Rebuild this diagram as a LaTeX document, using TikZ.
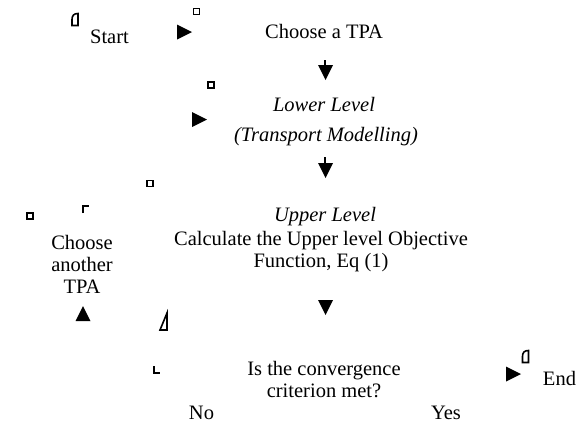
\documentclass[tikz,border=0pt]{standalone}
\usepackage{fontspec}
\setmainfont{Liberation Serif}
\usetikzlibrary{positioning}

\begin{document}
\begin{tikzpicture}[x=1pt, y=-1pt,
    lbl/.style={font=\fontsize{20.5}{21.7}\selectfont, inner sep=0pt, align=center, anchor=base},
    ital/.style={lbl, font=\fontsize{20.5}{21.7}\selectfont\itshape},
    frag/.style={line width=1.6pt},
    tipright/.pic={\fill (0,-7.5) -- (15,0) -- (0,7.5) -- cycle;},
    tipdown/.pic={\fill (-7.5,0) -- (7.5,0) -- (0,15) -- cycle;},
    tipup/.pic={\fill (-7.5,0) -- (7.5,0) -- (0,-15) -- cycle;},
    bit/.pic={\draw[frag] (-3,-3) rectangle (3,3);},
    roundbit/.pic={\draw[frag] (-3,6) -- (-3,0) .. controls (-3,-4) and (-1,-6) .. (3,-6) -- (3,6) -- cycle;}]
    \useasboundingbox (0,0) rectangle (581,426);

    % Texts (multi-line ones sit on their last line)
    \node[lbl] (start) at (109.5,43) {Start};
    \node[lbl] (choose) at (324,38) {Choose a TPA};
    \node[ital] (lower) at (324,111) {Lower Level};
    \node[ital] (transport) at (326,141) {(Transport Modelling)};
    \node[ital] (upper) at (325,221) {Upper Level};
    \node[lbl] (calc) at (321,267) {Calculate the Upper level Objective\\Function, Eq (1)};
    \node[lbl] (another) at (82,293) {Choose\\another\\TPA};
    \node[lbl] (conv) at (324,397) {Is the convergence\\criterion met?};
    \node[lbl] (no) at (201.5,419) {No};
    \node[lbl] (yes) at (446,419) {Yes};
    \node[lbl] (end) at (559.5,385) {End};

    % Arrow heads
    \foreach \x/\y in {177/32, 192/119.5, 506/374} {
      \pic at (\x,\y) {tipright};
    }
    \foreach \y in {65, 163, 300} {
      \pic at (325.5,\y) {tipdown};
    }
    \pic at (83,321) {tipup};
    \draw[line width=2pt] (325,60) -- (325,66);
    \draw[line width=2pt] (325,157) -- (325,164);

    % Left-over bits
    \foreach \x/\y in {196.5/11.5, 211/85, 150/183.5, 30/216} {
      \pic at (\x,\y) {bit};
    }
    \pic at (75,19.5) {roundbit};
    \pic at (525.5,356.5) {roundbit};
    \draw[frag] (83,213) -- (83,206) -- (89,206);
    \draw[frag] (154,366) -- (154,373) -- (160,373);
    \draw[frag] (167,313) -- (167,330) -- (160,330) -- cycle;
\end{tikzpicture}
\end{document}
